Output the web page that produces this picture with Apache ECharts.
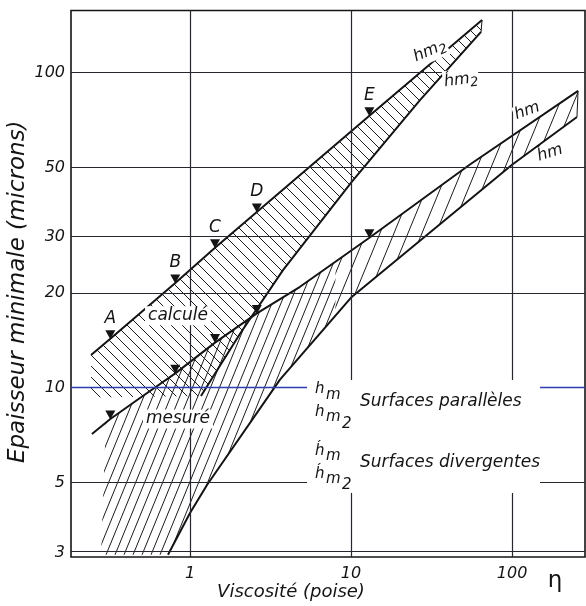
<!DOCTYPE html>
<html>
<head>
<meta charset="utf-8">
<script src="https://cdn.jsdelivr.net/npm/echarts@6.0.0/dist/echarts.min.js"></script>
<style>
  html, body { margin: 0; padding: 0; background: #fff; }
  #chart { width: 586px; height: 606px; }
</style>
</head>
<body>
<div id="chart"></div>
<script>
// Axis ticks: viscosity (poise) and minimum film thickness (microns)
const xTicks = [1, 10, 100];
const yTicks = [3, 5, 10, 20, 30, 50, 100];
const etaAt = 185;

// Test viscosities A–E with calculated (hm2) and measured (hm) thickness
const testNames = ['A', 'B', 'C', 'D', 'E'];
const testVisc = [0.32, 0.81, 1.43, 2.6, 13];
const calcThick = [14.3, 21.5, 27.8, 36.1, 72.9];
const measThick = [7.95, 11.1, 13.9, 17.2, 29.9];

// hm2 line ends
const hm2Ends = [[0.243, 12.7], [65.1, 146.9]];
// h'm2 curve (divergent surfaces, calculated)
const hpm2Curve = [[1.17, 9.41], [2.04, 14.8], [3.78, 23.6], [10.1, 45.0], [26.8, 81.8], [64.2, 134.6]];
// further points along the hm curve
const hmExtra = [[0.246, 7.13], [0.489, 9.27], [4.82, 20.9], [54.2, 50.9], [257, 87.5]];
// h'm curve (divergent surfaces, measured)
const hpmCurve = [[0.73, 2.95], [1.0, 4.0], [1.275, 4.91], [3.62, 10.6], [10.1, 19.4], [100, 51], [253, 72.3]];
// corners closing the hatched zones
const calcCorner = [[0.243, 9.3]];
const measCorners = [[0.28, 2.95], [0.30, 7.7]];
// viscosity where the measured-zone hatching opens up
const hatchSplitVisc = 8;

// text anchors (data coordinates)
const zoneLabels = [
  { text: 'calculé', at: [0.842, 16.9] },
  { text: 'mesuré', at: [0.842, 7.95] }
];
const curveLabels = [
  { text: '{a|hm}{s|2}', at: [30.9, 117.2], rot: 24 },
  { text: '{a|h\u0301m}{s|2}', at: [48.2, 94.8], rot: 8 },
  { text: '{a|hm}', at: [124, 75.6], rot: 20 },
  { text: '{a|h\u0301m}', at: [172, 55.6], rot: 18 }
];
const legendAnchor = [5.33, 10.58];

const L = Math.log10;
const toLog = pts => pts.map(p => [L(p[0]), L(p[1])]);

const hm2Line = [hm2Ends[0], ...testVisc.map((x, i) => [x, calcThick[i]]), hm2Ends[1]];
const hmLine = [...hmExtra, ...testVisc.map((x, i) => [x, measThick[i]])].sort((a, b) => a[0] - b[0]);
const calcOutline = [...calcCorner, ...hm2Line, ...hpm2Curve.slice().reverse()];
const measOutline = [...measCorners, ...hmLine.filter(p => p[0] > 0.3), ...hpmCurve.slice().reverse()];
const calcCap = [hm2Ends[1], hpm2Curve[hpm2Curve.length - 1]];
const measCap = [hmLine[hmLine.length - 1], hpmCurve[hpmCurve.length - 1]];

// Tileable hatch pattern
function hatchTile(w, h, dir, color, lw) {
  const c = document.createElement('canvas');
  c.width = w; c.height = h;
  const g = c.getContext('2d');
  g.strokeStyle = color; g.lineWidth = lw;
  g.beginPath();
  for (const dx of [-w, 0, w]) {
    if (dir === '/') { g.moveTo(dx, h); g.lineTo(dx + w, 0); }
    else { g.moveTo(dx, 0); g.lineTo(dx + w, h); }
  }
  g.stroke();
  return c;
}
const calcHatch = hatchTile(11, 11, '\\', '#1c1c1c', 1);
const measHatchDense = hatchTile(9, 22, '/', '#1c1c1c', 1);
const measHatchOpen = hatchTile(14, 34, '/', '#1c1c1c', 1);

// keep the part of a pixel polygon on one side of a vertical line
function clipAtX(points, x0, keepLeft) {
  const out = [];
  const inside = p => keepLeft ? p[0] <= x0 : p[0] >= x0;
  for (let i = 0; i < points.length; i++) {
    const a = points[i], b = points[(i + 1) % points.length];
    const ia = inside(a), ib = inside(b);
    if (ia) out.push(a);
    if (ia !== ib) {
      const t = (x0 - a[0]) / (b[0] - a[0]);
      out.push([x0, a[1] + t * (b[1] - a[1])]);
    }
  }
  return out;
}

const hatchFill = tile => ({ fill: { image: tile, repeat: 'repeat' }, stroke: null });

const calcZone = {
  type: 'custom', z: 2, silent: true, clip: true,
  data: [[0, 1]],
  renderItem: (params, api) => ({
    type: 'polygon',
    shape: { points: calcOutline.map(p => api.coord([L(p[0]), L(p[1])])) },
    style: hatchFill(calcHatch)
  })
};

const measZone = {
  type: 'custom', z: 2, silent: true, clip: true,
  data: [[0, 1]],
  renderItem: (params, api) => {
    const pts = measOutline.map(p => api.coord([L(p[0]), L(p[1])]));
    const xs = api.coord([L(hatchSplitVisc), 1])[0];
    return {
      type: 'group',
      children: [
        { type: 'polygon', shape: { points: clipAtX(pts, xs, true) }, style: hatchFill(measHatchDense) },
        { type: 'polygon', shape: { points: clipAtX(pts, xs, false) }, style: hatchFill(measHatchOpen) }
      ]
    };
  }
};

const font = 'DejaVu Sans';
const ink = '#141414';
const lineStyle = { color: ink, width: 2 };
const capStyle = { color: ink, width: 1 };
const markerStyle = { color: ink, opacity: 1 };

const chart = echarts.init(document.getElementById('chart'), null, { renderer: 'canvas' });

const option = {
  animation: false,
  backgroundColor: '#fff',
  textStyle: { fontFamily: font },
  grid: {
    left: 71, top: 10.5, right: 1, bottom: 49, outerBoundsMode: 'none', containLabel: false,
    show: true, borderColor: ink, borderWidth: 1.6
  },
  xAxis: {
    type: 'value', min: -0.739, max: 2.453,
    axisLine: { show: false }, axisTick: { show: false }, splitLine: { show: false },
    axisLabel: {
      customValues: [...xTicks.map(L), L(etaAt)],
      formatter: v => v > 2.1 ? '{eta|η}' : String(Math.round(Math.pow(10, v))),
      margin: 9, color: ink, fontStyle: 'italic', fontSize: 16, fontFamily: font,
      rich: { eta: { fontSize: 23, fontStyle: 'normal', color: ink, fontFamily: font, padding: [4, 0, 0, 0] } }
    },
    name: 'Viscosité (poise)', nameLocation: 'middle', nameGap: 26, nameMoveOverlap: false,
    nameTextStyle: { color: ink, fontStyle: 'italic', fontSize: 18, fontFamily: font, padding: [0, 74, 0, 0] }
  },
  yAxis: {
    type: 'value', min: 0.4625, max: 2.197,
    axisLine: { show: false }, axisTick: { show: false }, splitLine: { show: false },
    axisLabel: {
      customValues: yTicks.map(L),
      formatter: v => String(Math.round(Math.pow(10, v))),
      margin: 6, color: ink, fontStyle: 'italic', fontSize: 16, fontFamily: font
    },
    name: 'Epaisseur minimale (microns)', nameLocation: 'middle', nameGap: 41, nameMoveOverlap: false,
    nameTextStyle: { color: ink, fontStyle: 'italic', fontSize: 23, fontFamily: font, padding: [0, 16, 0, 0] }
  },
  series: [
    // grid lines
    {
      type: 'line', data: [[0, 1]], showSymbol: false, z: 1, silent: true,
      markLine: {
        silent: true, symbol: ['none', 'none'], label: { show: false },
        lineStyle: { color: '#26262e', width: 1.2, type: 'solid' },
        data: [
          ...xTicks.map(v => ({ xAxis: L(v) })),
          ...yTicks.map(v => v === 10
            ? { yAxis: L(v), lineStyle: { color: '#2e3db0', width: 1.3, type: 'solid' } }
            : { yAxis: L(v) })
        ]
      }
    },
    calcZone,
    measZone,
    { type: 'line', data: toLog(hm2Line), showSymbol: false, silent: true, z: 3, lineStyle },
    { type: 'line', data: toLog(hpm2Curve), showSymbol: false, silent: true, z: 3, lineStyle },
    { type: 'line', data: toLog(hmLine), showSymbol: false, silent: true, z: 3, lineStyle },
    { type: 'line', data: toLog(hpmCurve), showSymbol: false, silent: true, z: 3, lineStyle },
    { type: 'line', data: toLog(calcCap), showSymbol: false, silent: true, z: 3, lineStyle: capStyle },
    { type: 'line', data: toLog(measCap), showSymbol: false, silent: true, z: 3, lineStyle: capStyle },
    // calculated points A–E
    {
      type: 'scatter', z: 5, silent: true,
      symbol: 'triangle', symbolRotate: 180, symbolSize: [10, 9], symbolOffset: [0, -4],
      itemStyle: markerStyle,
      data: testVisc.map((x, i) => ({ name: testNames[i], value: [L(x), L(calcThick[i])] })),
      label: { show: true, position: 'top', distance: 3, formatter: '{b}', color: ink, opacity: 1, fontStyle: 'italic', fontSize: 17, fontFamily: font }
    },
    // measured points
    {
      type: 'scatter', z: 5, silent: true,
      symbol: 'triangle', symbolRotate: 180, symbolSize: [10, 9], symbolOffset: [0, -4],
      itemStyle: markerStyle,
      data: testVisc.map((x, i) => [L(x), L(measThick[i])])
    },
    // zone and curve names
    {
      type: 'scatter', z: 6, silent: true, symbolSize: 1, itemStyle: { color: 'rgba(0,0,0,0)' },
      data: [
        ...zoneLabels.map(d => ({
          value: [L(d.at[0]), L(d.at[1])],
          label: { formatter: d.text, fontSize: 17 }
        })),
        ...curveLabels.map(d => ({
          value: [L(d.at[0]), L(d.at[1])],
          label: {
            formatter: d.text, rotate: d.rot, padding: [0, 1],
            rich: {
              a: { fontSize: 16, fontStyle: 'italic', fontFamily: font, color: ink },
              s: { fontSize: 13, fontStyle: 'italic', fontFamily: font, color: ink, padding: [9, 0, 0, 0] }
            }
          }
        }))
      ],
      label: {
        show: true, position: 'inside', color: ink, opacity: 1, fontStyle: 'italic', fontFamily: font,
        backgroundColor: '#fff', padding: [1, 3]
      }
    }
  ]
};

chart.setOption(option);

// Key block: surface types
function placeKey() {
  const [ax, ay] = chart.convertToPixel({ gridIndex: 0 }, [L(legendAnchor[0]), L(legendAnchor[1])]);
  const T = (dx, dy, text, size) => ({
    type: 'text', x: ax + dx, y: ay + dy, z: 11, silent: true,
    style: {
      text, font: `italic ${size}px "${font}"`, fill: ink,
      align: 'left', verticalAlign: 'middle', textAlign: 'left', textVerticalAlign: 'middle'
    }
  });
  chart.setOption({
    graphic: [
      { type: 'rect', x: ax, y: ay, z: 10, silent: true, shape: { width: 233, height: 113 }, style: { fill: '#fff' } },
      T(8, 9, 'h', 15), T(19, 15, 'm', 15),
      T(8, 32, 'h', 15), T(19, 37, 'm', 15), T(35, 44, '2', 15),
      T(53, 21.5, 'Surfaces parallèles', 17),
      T(8, 71, 'h\u0301', 15), T(19, 76.5, 'm', 15),
      T(8, 94, 'h\u0301', 15), T(19, 99.5, 'm', 15), T(35, 105, '2', 15),
      T(53, 82.5, 'Surfaces divergentes', 17)
    ]
  });
}
placeKey();
</script>
</body>
</html>
